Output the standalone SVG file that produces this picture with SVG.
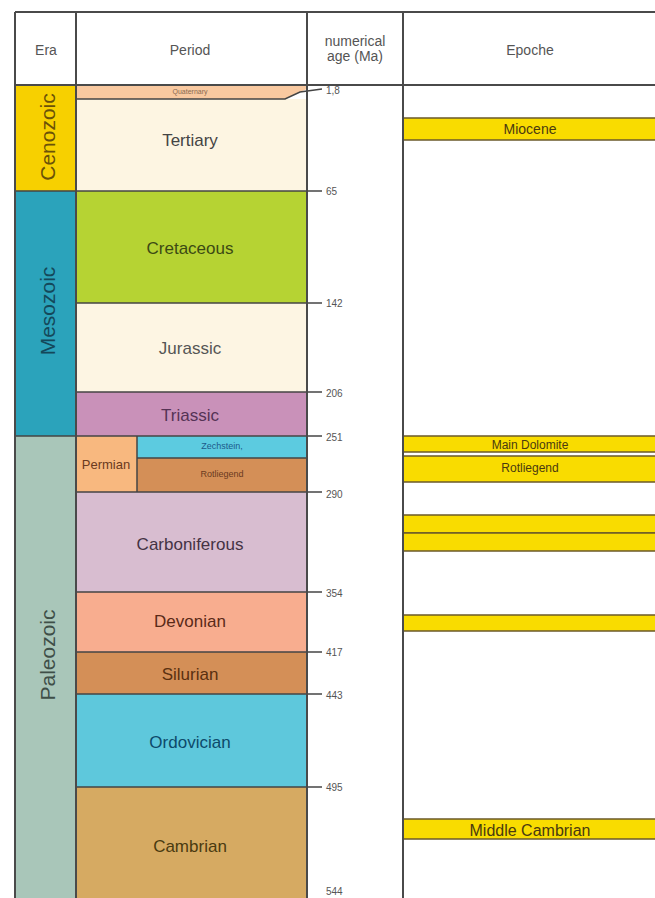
<svg xmlns="http://www.w3.org/2000/svg" width="655" height="898" viewBox="0 0 655 898">
<style>
text{font-family:"Liberation Sans",Arial,sans-serif;text-anchor:middle;dominant-baseline:central}
.hd{font-size:14px;fill:#555}
.per{font-size:17px}
.era{font-size:21px}
.tk{font-size:10px;fill:#555;text-anchor:start}
.ln{stroke:#4a4a4a;stroke-width:2;fill:none}
.bd{stroke:#444;stroke-width:1.5}
.band{fill:#f9dc00;stroke:#6b5a2a;stroke-width:1.5}
.ep{fill:#4a3a10}
</style>
<rect width="655" height="898" fill="#fff"/>
<g id="eras">
<g id="era-cenozoic"><rect x="15" y="85" width="61" height="106" fill="#f7d000"/><text class="era" transform="translate(47,137) rotate(-90)" fill="#6b5208">Cenozoic</text></g>
<g id="era-mesozoic"><rect x="15" y="191" width="61" height="245" fill="#2ba3bb"/><text class="era" transform="translate(47,311) rotate(-90)" fill="#14485a">Mesozoic</text></g>
<g id="era-paleozoic"><rect x="15" y="436" width="61" height="462" fill="#a9c6b9"/><text class="era" transform="translate(47,655) rotate(-90)" fill="#3f4f48">Paleozoic</text></g>
</g>
<g id="periods">
<g id="p-tertiary"><rect x="76" y="99" width="231" height="92" fill="#fdf5e2"/><text class="per" x="190" y="140" fill="#444">Tertiary</text></g>
<g id="p-quaternary"><polygon points="76,85 307,85 307,89 300,92 285,99 76,99" fill="#f9c9a0"/><text x="190" y="91" font-size="7" fill="#8a6a50">Quaternary</text></g>
<g id="p-cretaceous"><rect x="76" y="191" width="231" height="112" fill="#b6d333"/><text class="per" x="190" y="248" fill="#3c4a14">Cretaceous</text></g>
<g id="p-jurassic"><rect x="76" y="303" width="231" height="89" fill="#fdf5e3"/><text class="per" x="190" y="348" fill="#555">Jurassic</text></g>
<g id="p-triassic"><rect x="76" y="392" width="231" height="44" fill="#c991b9"/><text class="per" x="190" y="415" fill="#553355">Triassic</text></g>
<g id="p-permian"><rect x="76" y="436" width="61" height="56" fill="#f8b87f"/><text x="106" y="464" font-size="13" fill="#6a3a20">Permian</text></g>
<g id="p-zechstein"><rect x="137" y="436" width="170" height="22" fill="#5ccbe0"/><text x="222" y="446" font-size="9" fill="#1d5a8a">Zechstein,</text></g>
<g id="p-rotliegend"><rect x="137" y="458" width="170" height="34" fill="#d48f57"/><text x="222" y="474" font-size="9" fill="#6a3a20">Rotliegend</text></g>
<g id="p-carboniferous"><rect x="76" y="492" width="231" height="100" fill="#d8bdd0"/><text class="per" x="190" y="544" fill="#443344">Carboniferous</text></g>
<g id="p-devonian"><rect x="76" y="592" width="231" height="60" fill="#f8ad8f"/><text class="per" x="190" y="621" fill="#5a2a18">Devonian</text></g>
<g id="p-silurian"><rect x="76" y="652" width="231" height="42" fill="#d48f57"/><text class="per" x="190" y="674" fill="#5a3010">Silurian</text></g>
<g id="p-ordovician"><rect x="76" y="694" width="231" height="93" fill="#5ec8dc"/><text class="per" x="190" y="742" fill="#0d4a6a">Ordovician</text></g>
<g id="p-cambrian"><rect x="76" y="787" width="231" height="111" fill="#d6aa62"/><text class="per" x="190" y="846" fill="#4a3a10">Cambrian</text></g>
</g>
<g id="epochs">
<g id="e-miocene"><rect class="band" x="403" y="118" width="260" height="22"/><text class="ep" x="530" y="129" font-size="14">Miocene</text></g>
<g id="e-maindolomite"><rect class="band" x="403" y="436" width="260" height="16"/><text class="ep" x="530" y="445" font-size="12">Main Dolomite</text></g>
<g id="e-rotliegend"><rect class="band" x="403" y="456" width="260" height="26"/><text class="ep" x="530" y="468" font-size="12">Rotliegend</text></g>
<g id="e-band3"><rect class="band" x="403" y="515" width="260" height="18"/></g>
<g id="e-band4"><rect class="band" x="403" y="533" width="260" height="18"/></g>
<g id="e-band5"><rect class="band" x="403" y="615" width="260" height="16"/></g>
<g id="e-midcambrian"><rect class="band" x="403" y="819" width="260" height="20"/><text class="ep" x="530" y="830" font-size="16">Middle Cambrian</text></g>
</g>
<g id="connectors">
<line class="bd" x1="76" y1="191" x2="322" y2="191"/>
<line class="bd" x1="76" y1="303" x2="322" y2="303"/>
<line class="bd" x1="76" y1="392" x2="322" y2="392"/>
<line class="bd" x1="76" y1="436" x2="322" y2="436"/>
<line class="bd" x1="137" y1="458" x2="307" y2="458"/>
<line class="bd" x1="137" y1="436" x2="137" y2="492"/>
<line class="bd" x1="76" y1="492" x2="322" y2="492"/>
<line class="bd" x1="76" y1="592" x2="322" y2="592"/>
<line class="bd" x1="76" y1="652" x2="322" y2="652"/>
<line class="bd" x1="76" y1="694" x2="322" y2="694"/>
<line class="bd" x1="76" y1="787" x2="322" y2="787"/>
<polyline class="bd" fill="none" points="76,99 285,99 300,92 322,89"/>
<line class="bd" x1="15" y1="191" x2="76" y2="191"/>
<line class="bd" x1="15" y1="436" x2="76" y2="436"/>
<path class="ln" d="M15,12 H655 M15,85 H655 M15,12 V898 M76,12 V898 M307,12 V898 M403,12 V898"/>
</g>
<g id="header">
<text class="hd" x="46" y="50">Era</text>
<text class="hd" x="190" y="50">Period</text>
<text class="hd" x="355" y="41" font-size="12">numerical</text>
<text class="hd" x="355" y="56" font-size="12">age (Ma)</text>
<text class="hd" x="530" y="50">Epoche</text>
</g>
<g id="ticks">
<text class="tk" x="326" y="90">1,8</text>
<text class="tk" x="326" y="191">65</text>
<text class="tk" x="326" y="303">142</text>
<text class="tk" x="326" y="393">206</text>
<text class="tk" x="326" y="437">251</text>
<text class="tk" x="326" y="494">290</text>
<text class="tk" x="326" y="593">354</text>
<text class="tk" x="326" y="652">417</text>
<text class="tk" x="326" y="695">443</text>
<text class="tk" x="326" y="787">495</text>
<text class="tk" x="326" y="891">544</text>
</g>
</svg>
